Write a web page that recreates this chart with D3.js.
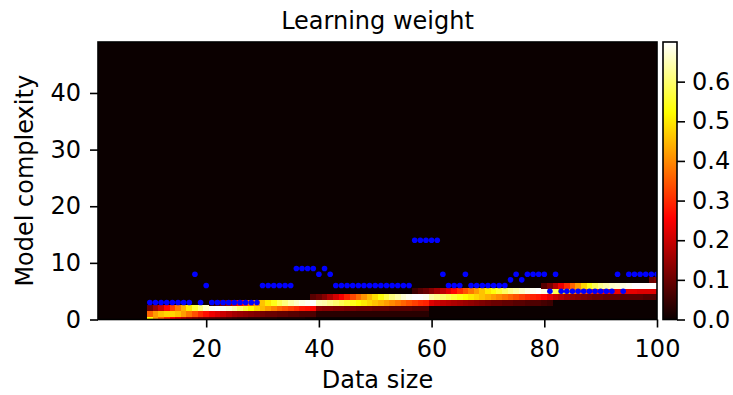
<!DOCTYPE html>
<html>
<head>
<meta charset="utf-8">
<script src="https://cdn.jsdelivr.net/npm/d3@7"></script>
<style>
  body { margin: 0; background: #fff; }
  text { font-family: "DejaVu Sans", sans-serif; fill: #000; }
</style>
</head>
<body>
<svg id="chart" width="733" height="395"></svg>
<script>
// data sizes shown on the x axis, one heatmap column each
const sizes = d3.range(10, 101)
const sizeTicks = [20, 40, 60, 80, 100]
const complexityTicks = [0, 10, 20, 30, 40]
const weightTicks = [0, 0.1, 0.2, 0.3, 0.4, 0.5, 0.6]
const vmax = 0.7

// learning weight per model complexity row, starting at the given data size
const weight0From = 10
const weight0 = [0.52, 0.42, 0.36, 0.30, 0.26, 0.22, 0.19, 0.16, 0.14, 0.12,
    0.11, 0.10, 0.09, 0.08, 0.07, 0.06, 0.05, 0.05, 0.04, 0.04,
    0.03, 0.03, 0.03, 0.02, 0.02, 0.02, 0.02, 0.02, 0.01, 0.01]
const weight1From = 10
const weight1 = [0.36, 0.42, 0.46, 0.48, 0.48, 0.46, 0.42, 0.38, 0.34, 0.30,
    0.27, 0.24, 0.22, 0.20, 0.18, 0.16, 0.15, 0.14, 0.13, 0.12,
    0.11, 0.10, 0.10, 0.09, 0.09, 0.08, 0.08, 0.07, 0.07, 0.07,
    0.03, 0.03, 0.03, 0.03, 0.03, 0.03, 0.03, 0.03, 0.03, 0.03,
    0.03, 0.03, 0.03, 0.03, 0.03, 0.03, 0.03, 0.03, 0.03, 0.03]
const weight2From = 10
const weight2 = [0.10, 0.15, 0.20, 0.26, 0.32, 0.38, 0.44, 0.50, 0.56, 0.61,
    0.66, 0.69, 0.70, 0.69, 0.67, 0.64, 0.60, 0.56, 0.52, 0.48,
    0.45, 0.42, 0.39, 0.36, 0.34, 0.32, 0.30, 0.28, 0.27, 0.26,
    0.14, 0.13, 0.13, 0.12, 0.12, 0.11, 0.11, 0.10, 0.10, 0.10,
    0.09, 0.09, 0.09, 0.08, 0.08, 0.08, 0.08, 0.07, 0.07, 0.07]
const weight3From = 21
const weight3 = [0.05, 0.08, 0.12, 0.16, 0.21, 0.26, 0.31, 0.36, 0.41, 0.46,
    0.50, 0.54, 0.58, 0.61, 0.64, 0.66, 0.68, 0.69, 0.70,
    0.65, 0.64, 0.62, 0.60, 0.58, 0.56, 0.54, 0.52, 0.50, 0.48,
    0.46, 0.44, 0.42, 0.40, 0.38, 0.36, 0.34, 0.32, 0.30, 0.29,
    0.22, 0.20, 0.19, 0.18, 0.17, 0.16, 0.15, 0.14, 0.13, 0.12,
    0.11, 0.10, 0.10, 0.09, 0.09, 0.08, 0.08, 0.07, 0.07, 0.07, 0.06, 0.05]
const weight4From = 39
const weight4 = [0.08,
    0.10, 0.13, 0.17, 0.21, 0.25, 0.29, 0.33, 0.37, 0.41, 0.45,
    0.49, 0.53, 0.57, 0.61, 0.64, 0.67, 0.69, 0.70, 0.70, 0.69,
    0.64, 0.62, 0.60, 0.58, 0.56, 0.54, 0.52, 0.50, 0.48, 0.46,
    0.44, 0.42, 0.40, 0.38, 0.36, 0.34, 0.32, 0.30, 0.29, 0.28,
    0.26, 0.23, 0.20, 0.18, 0.16, 0.14, 0.13, 0.12, 0.11, 0.10,
    0.10, 0.09, 0.09, 0.09, 0.08, 0.08, 0.08, 0.08, 0.07, 0.07, 0.07]
const weight5From = 57
const weight5 = [0.05, 0.08, 0.10,
    0.13, 0.16, 0.19, 0.22, 0.26, 0.30, 0.34, 0.38, 0.42, 0.46,
    0.50, 0.53, 0.56, 0.59, 0.62, 0.64, 0.66, 0.68, 0.69, 0.70,
    0.68, 0.64, 0.58, 0.52, 0.46, 0.41, 0.37, 0.34, 0.31, 0.29,
    0.27, 0.26, 0.25, 0.24, 0.24, 0.23, 0.23, 0.22, 0.22, 0.22, 0.22]
const weight6From = 80
const weight6 = [0.08, 0.12, 0.18, 0.24, 0.30, 0.36, 0.42, 0.48, 0.54, 0.58,
    0.62, 0.64, 0.66, 0.67, 0.68, 0.69, 0.70, 0.70, 0.70, 0.70, 0.70]
const weight7From = 99
const weight7 = [0.10, 0.12]

// selected complexity (blue dots), one per data size 10..100
const picks = [3, 3, 3, 3, 3, 3, 3, 3, 8, 3,
    6, 3, 3, 3, 3, 3, 3, 3, 3, 3,
    6, 6, 6, 6, 6, 6, 9, 9, 9, 9,
    8, 9, 8, 6, 6, 6, 6, 6, 6, 6,
    6, 6, 6, 6, 6, 6, 6, 14, 14, 14,
    14, 14, 8, 6, 6, 6, 8, 6, 6, 6,
    6, 6, 6, 6, 7, 8, 7, 8, 8, 8,
    8, 5, 8, 5, 5, 5, 5, 5, 5, 5,
    5, 5, 5, 8, 5, 8, 8, 8, 8, 8, 8]

const rows = [
    [0, weight0From, weight0], [1, weight1From, weight1], [2, weight2From, weight2],
    [3, weight3From, weight3], [4, weight4From, weight4], [5, weight5From, weight5],
    [6, weight6From, weight6], [7, weight7From, weight7]
]
const cells = rows.flatMap(([k, from, values]) =>
    values.map((v, i) => ({ size: from + i, k: k, v: v })))
const dots = sizes.map((s, i) => ({ size: s, k: picks[i] }))

const plot = { left: 98, right: 657, top: 42, bottom: 319.5 }
const bar = { left: 663, right: 677 }

const x = d3.scaleLinear().domain([0.8, 100]).range([plot.left, plot.right])
const y = d3.scaleLinear().domain([0, 49]).range([plot.bottom, plot.top])
const c = d3.scaleLinear().domain([0, vmax]).range([plot.bottom, plot.top])
const hotStops = [0, 0.365079, 0.746032, 1]
const hotColors = ["#0b0000", "#ff0000", "#ffff00", "#ffffff"]
const color = d3.scaleLinear()
    .domain(hotStops.map(t => t * vmax))
    .range(hotColors)
    .clamp(true)

const svg = d3.select("#chart")

svg.append("defs").append("clipPath").attr("id", "clip")
    .append("rect")
    .attr("x", plot.left).attr("y", plot.top)
    .attr("width", plot.right - plot.left).attr("height", plot.bottom - plot.top)

const area = svg.append("g").attr("clip-path", "url(#clip)")

area.append("rect")
    .attr("x", plot.left).attr("y", plot.top)
    .attr("width", plot.right - plot.left).attr("height", plot.bottom - plot.top)
    .attr("fill", color(0))

area.selectAll("rect.cell")
    .data(cells)
    .join("rect")
    .attr("class", "cell")
    .attr("x", d => x(d.size - 0.5))
    .attr("y", d => y(d.k + 0.5))
    .attr("width", d => x(d.size + 0.5) - x(d.size - 0.5) + 0.4)
    .attr("height", d => y(d.k - 0.5) - y(d.k + 0.5) + 0.4)
    .attr("fill", d => color(d.v))
    .attr("shape-rendering", "crispEdges")

area.selectAll("circle")
    .data(dots)
    .join("circle")
    .attr("cx", d => x(d.size))
    .attr("cy", d => y(d.k))
    .attr("r", 2.8)
    .attr("fill", "#0000ff")

svg.append("rect")
    .attr("x", plot.left).attr("y", plot.top)
    .attr("width", plot.right - plot.left).attr("height", plot.bottom - plot.top)
    .attr("fill", "none").attr("stroke", "#000").attr("stroke-width", 1.6)

const styleAxis = g => {
    g.select(".domain").remove()
    g.selectAll(".tick line").attr("stroke", "#000").attr("stroke-width", 1.6)
    g.selectAll(".tick text").attr("font-size", 24).attr("font-family", "DejaVu Sans")
}

svg.append("g")
    .attr("transform", `translate(0,${plot.bottom})`)
    .call(d3.axisBottom(x).tickValues(sizeTicks).tickSize(8).tickPadding(12).tickSizeOuter(0))
    .call(styleAxis)

svg.append("g")
    .attr("transform", `translate(${plot.left},0)`)
    .call(d3.axisLeft(y).tickValues(complexityTicks).tickSize(8).tickPadding(9).tickSizeOuter(0))
    .call(styleAxis)

// colorbar
const grad = svg.select("defs").append("linearGradient")
    .attr("id", "hot").attr("x1", 0).attr("y1", 1).attr("x2", 0).attr("y2", 0)
grad.selectAll("stop")
    .data(hotStops)
    .join("stop")
    .attr("offset", d => d)
    .attr("stop-color", (d, i) => hotColors[i])

svg.append("rect")
    .attr("x", bar.left).attr("y", plot.top)
    .attr("width", bar.right - bar.left).attr("height", plot.bottom - plot.top)
    .attr("fill", "url(#hot)")
    .attr("stroke", "#000").attr("stroke-width", 1.6)

svg.append("g")
    .attr("transform", `translate(${bar.right},0)`)
    .call(d3.axisRight(c).tickValues(weightTicks).tickFormat(d3.format(".1f")).tickSize(8).tickPadding(7).tickSizeOuter(0))
    .call(styleAxis)

svg.append("text")
    .attr("x", (plot.left + plot.right) / 2).attr("y", 29)
    .attr("text-anchor", "middle").attr("font-size", 24)
    .text("Learning weight")

svg.append("text")
    .attr("x", (plot.left + plot.right) / 2).attr("y", 388)
    .attr("text-anchor", "middle").attr("font-size", 24)
    .text("Data size")

svg.append("text")
    .attr("transform", `translate(33,${(plot.top + plot.bottom) / 2}) rotate(-90)`)
    .attr("text-anchor", "middle").attr("font-size", 24)
    .text("Model complexity")
</script>
</body>
</html>
